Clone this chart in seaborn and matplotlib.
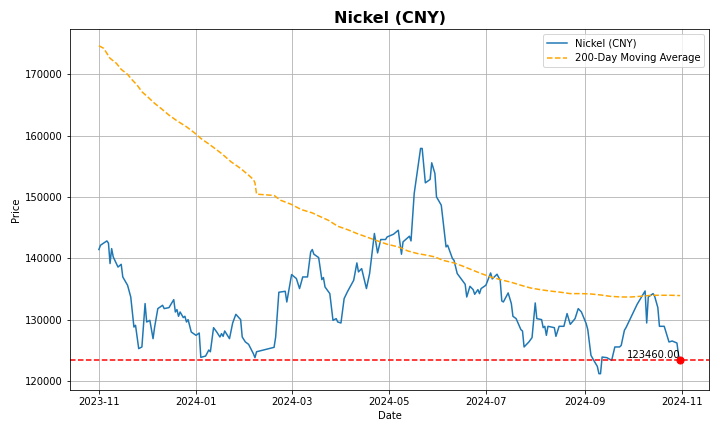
import pandas as pd
import matplotlib
matplotlib.use('Agg')
import matplotlib.pyplot as plt
import matplotlib.dates as mdates
import seaborn as sns

# ── Data ────────────────────────────────────────────────────
price_dates = [
    '2023-11-01', '2023-11-02', '2023-11-06', '2023-11-07', '2023-11-08', '2023-11-09',
    '2023-11-10', '2023-11-11', '2023-11-13', '2023-11-15', '2023-11-16', '2023-11-19',
    '2023-11-21', '2023-11-23', '2023-11-24', '2023-11-26', '2023-11-28', '2023-11-30',
    '2023-12-01', '2023-12-03', '2023-12-05', '2023-12-06', '2023-12-08', '2023-12-11',
    '2023-12-12', '2023-12-15', '2023-12-18', '2023-12-19', '2023-12-20', '2023-12-21',
    '2023-12-22', '2023-12-24', '2023-12-25', '2023-12-26', '2023-12-27', '2023-12-29',
    '2024-01-01', '2024-01-03', '2024-01-04', '2024-01-07', '2024-01-09', '2024-01-10',
    '2024-01-12', '2024-01-14', '2024-01-16', '2024-01-17', '2024-01-18', '2024-01-19',
    '2024-01-22', '2024-01-24', '2024-01-26', '2024-01-29', '2024-01-30', '2024-02-01',
    '2024-02-03', '2024-02-06', '2024-02-07', '2024-02-08', '2024-02-19', '2024-02-20',
    '2024-02-22', '2024-02-26', '2024-02-27', '2024-03-01', '2024-03-04', '2024-03-06',
    '2024-03-08', '2024-03-11', '2024-03-13', '2024-03-14', '2024-03-15', '2024-03-18',
    '2024-03-20', '2024-03-21', '2024-03-22', '2024-03-25', '2024-03-27', '2024-03-29',
    '2024-03-30', '2024-04-01', '2024-04-03', '2024-04-05', '2024-04-09', '2024-04-11',
    '2024-04-12', '2024-04-14', '2024-04-17', '2024-04-19', '2024-04-22', '2024-04-24',
    '2024-04-26', '2024-04-29', '2024-04-30', '2024-05-04', '2024-05-07', '2024-05-09',
    '2024-05-10', '2024-05-14', '2024-05-15', '2024-05-17', '2024-05-21', '2024-05-22',
    '2024-05-24', '2024-05-27', '2024-05-28', '2024-05-30', '2024-05-31', '2024-06-03',
    '2024-06-06', '2024-06-07', '2024-06-10', '2024-06-11', '2024-06-13', '2024-06-18',
    '2024-06-19', '2024-06-21', '2024-06-23', '2024-06-24', '2024-06-26', '2024-06-27',
    '2024-06-28', '2024-07-01', '2024-07-03', '2024-07-04', '2024-07-05', '2024-07-08',
    '2024-07-10', '2024-07-11', '2024-07-12', '2024-07-15', '2024-07-17', '2024-07-18',
    '2024-07-20', '2024-07-23', '2024-07-24', '2024-07-25', '2024-07-28', '2024-07-30',
    '2024-08-01', '2024-08-02', '2024-08-05', '2024-08-06', '2024-08-07', '2024-08-08',
    '2024-08-09', '2024-08-13', '2024-08-14', '2024-08-16', '2024-08-19', '2024-08-21',
    '2024-08-23', '2024-08-26', '2024-08-28', '2024-08-29', '2024-08-30', '2024-09-02',
    '2024-09-03', '2024-09-05', '2024-09-07', '2024-09-09', '2024-09-10', '2024-09-11',
    '2024-09-12', '2024-09-15', '2024-09-18', '2024-09-20', '2024-09-23', '2024-09-24',
    '2024-09-26', '2024-09-27', '2024-09-30', '2024-10-04', '2024-10-08', '2024-10-09',
    '2024-10-10', '2024-10-11', '2024-10-14', '2024-10-15', '2024-10-17', '2024-10-18',
    '2024-10-21', '2024-10-24', '2024-10-26', '2024-10-29', '2024-10-30', '2024-10-31',
]
price_values = [
    141450, 142150, 142850, 142500, 139170, 141600,
    140250, 139700, 138600, 139050, 136990, 135640,
    133730, 128840, 129120, 125330, 125600, 132660,
    129660, 129930, 126950, 128840, 131840, 132380,
    131840, 132000, 133300, 131290, 131680, 130590,
    131290, 130380, 130590, 129660, 130050, 128030,
    127490, 127870, 123910, 124120, 125100, 124820,
    128740, 128030, 127220, 127770, 127330, 128200,
    126950, 129500, 130910, 130050, 127220, 126410,
    126030, 124510, 123860, 124820, 125540, 127220,
    134500, 134660, 132920, 137380, 136730, 135100,
    136990, 136990, 141060, 141450, 140690, 140140,
    136560, 136890, 135360, 134280, 129930, 130210,
    129660, 129500, 133470, 134550, 136450, 139270,
    137810, 138350, 135100, 137550, 144060, 140900,
    143080, 143080, 143500, 143940, 144590, 140690,
    142700, 143620, 142850, 150570, 157900, 157900,
    152300, 152850, 155560, 153830, 150020, 148660,
    141880, 142150, 139990, 139700, 137550, 135800,
    133730, 135470, 134930, 134170, 134930, 134280,
    135100, 135640, 137000, 137640, 136670, 137430,
    136450, 133080, 132920, 134390, 132660, 130590,
    130210, 128420, 128200, 125600, 126410, 127120,
    132760, 130210, 130050, 128740, 128960, 127490,
    128960, 128740, 127330, 128960, 128960, 131030,
    129280, 130210, 131840, 131560, 131290, 129400,
    128420, 124240, 123310, 122440, 121250, 121250,
    123960, 123860, 123420, 125600, 125600, 125860,
    128310, 128740, 130380, 132540, 134280, 134710,
    129500, 133730, 134280, 133840, 132000, 128960,
    128960, 126410, 126570, 126240, 124240, 123460,
]

ma_dates = [
    '2023-11-01', '2023-11-04', '2023-11-06', '2023-11-08', '2023-11-12', '2023-11-15',
    '2023-11-19', '2023-11-22', '2023-11-25', '2023-11-28', '2023-12-02', '2023-12-06',
    '2023-12-10', '2023-12-15', '2023-12-20', '2023-12-26', '2023-12-31', '2024-01-04',
    '2024-01-10', '2024-01-17', '2024-01-23', '2024-01-29', '2024-02-03', '2024-02-06',
    '2024-02-07', '2024-02-08', '2024-02-19', '2024-02-23', '2024-03-01', '2024-03-07',
    '2024-03-14', '2024-03-18', '2024-03-24', '2024-03-30', '2024-04-05', '2024-04-11',
    '2024-04-18', '2024-04-24', '2024-04-30', '2024-05-07', '2024-05-13', '2024-05-19',
    '2024-05-25', '2024-05-30', '2024-06-04', '2024-06-11', '2024-06-17', '2024-06-24',
    '2024-06-28', '2024-07-04', '2024-07-10', '2024-07-17', '2024-07-23', '2024-07-29',
    '2024-08-04', '2024-08-10', '2024-08-17', '2024-08-23', '2024-08-30', '2024-09-05',
    '2024-09-11', '2024-09-17', '2024-09-24', '2024-09-30', '2024-10-06', '2024-10-13',
    '2024-10-18', '2024-10-25', '2024-10-31',
]
ma_values = [
    174600, 174190, 173370, 172560, 171740, 170760,
    169950, 169020, 168210, 167120, 166200, 165230,
    164410, 163320, 162400, 161420, 160440, 159530,
    158440, 157080, 155720, 154640, 153550, 152850,
    152300, 150460, 150250, 149480, 148780, 147960,
    147410, 146920, 146220, 145240, 144700, 144060,
    143410, 142850, 142310, 141880, 141220, 140800,
    140520, 140250, 139700, 139270, 138700, 137960,
    137550, 136990, 136560, 136120, 135640, 135200,
    134930, 134710, 134500, 134280, 134280, 134220,
    134060, 133840, 133730, 133730, 133840, 134010,
    134010, 134010, 133960,
]

price = pd.DataFrame({'Date': pd.to_datetime(price_dates), 'Price': price_values})
ma = pd.DataFrame({'Date': pd.to_datetime(ma_dates), 'MA': ma_values})
last_date = price['Date'].iloc[-1]
last_price = price['Price'].iloc[-1]

# ── Plot ─────────────────────────────────────────────────────
fig, ax = plt.subplots(figsize=(10, 6), dpi=72)
fig.subplots_adjust(left=0.097, right=0.985, top=0.932, bottom=0.097)

sns.lineplot(data=price, x='Date', y='Price', ax=ax, color='#1f77b4',
             linewidth=1.5, label='Nickel (CNY)')
sns.lineplot(data=ma, x='Date', y='MA', ax=ax, color='orange',
             linewidth=1.5, linestyle='--', label='200-Day Moving Average')

# latest price marker
ax.axhline(last_price, color='red', linestyle='--', linewidth=1.5)
ax.scatter([last_date], [last_price], color='red', s=50, zorder=5)
ax.text(last_date, last_price, f'{last_price:.2f}', ha='right', va='bottom',
        fontsize=10)

ax.set_title('Nickel (CNY)', fontsize=16, fontweight='bold')
ax.set_xlabel('Date')
ax.set_ylabel('Price')
ax.grid(True)
ax.xaxis.set_major_locator(mdates.MonthLocator(bymonth=[1, 3, 5, 7, 9, 11]))
ax.xaxis.set_major_formatter(mdates.DateFormatter('%Y-%m'))
ax.ticklabel_format(axis='y', style='plain', useOffset=False)
ax.legend(loc='upper right')

plt.savefig('out.png', dpi=72)
plt.close()
